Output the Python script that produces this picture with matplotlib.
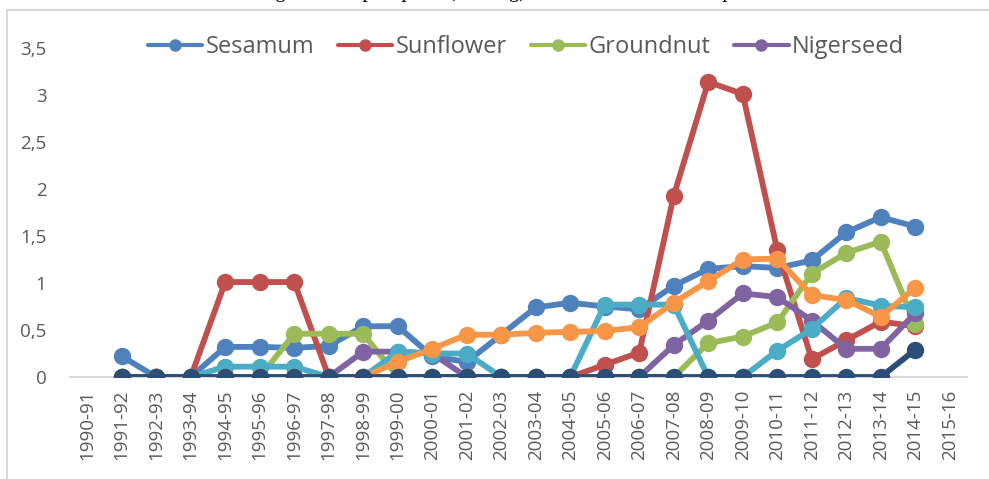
import numpy as np
import matplotlib
matplotlib.use("Agg")
import matplotlib.pyplot as plt
from matplotlib.lines import Line2D

nan = np.nan

years = ["1990-91", "1991-92", "1992-93", "1993-94", "1994-95", "1995-96",
         "1996-97", "1997-98", "1998-99", "1999-00", "2000-01", "2001-02",
         "2002-03", "2003-04", "2004-05", "2005-06", "2006-07", "2007-08",
         "2008-09", "2009-10", "2010-11", "2011-12", "2012-13", "2013-14",
         "2014-15", "2015-16"]

sesamum = [nan, 0.22, 0, 0, 0.32, 0.32, 0.31, 0.33, 0.54, 0.54, 0.22, 0.16, 0.45,
           0.74, 0.79, 0.75, 0.72, 0.97, 1.15, 1.18, 1.16, 1.24, 1.54, 1.70, 1.60, nan]
sunflower = [nan, 0, 0, 0, 1.01, 1.01, 1.01, 0, 0, 0, 0, 0, 0,
             0, 0, 0.13, 0.26, 1.93, 3.14, 3.01, 1.35, 0.19, 0.39, 0.59, 0.54, nan]
groundnut = [nan, 0, 0, 0, 0, 0, 0.46, 0.46, 0.46, 0, 0, 0, 0,
             0, 0, 0, 0, 0, 0.36, 0.43, 0.58, 1.10, 1.32, 1.44, 0.56, nan]
nigerseed = [nan, 0, 0, 0, 0, 0, 0, 0, 0.27, 0.27, 0.25, 0, 0,
             0, 0, 0, 0, 0.34, 0.60, 0.89, 0.85, 0.60, 0.30, 0.30, 0.68, nan]
series5 = [nan, 0, 0, 0, 0.11, 0.11, 0.11, 0, 0, 0.27, 0.25, 0.25, 0,
           0, 0, 0.77, 0.77, 0.77, 0, 0, 0.28, 0.51, 0.84, 0.76, 0.74, nan]
series6 = [nan, 0, 0, 0, 0, 0, 0, 0, 0, 0.16, 0.30, 0.45, 0.45,
           0.47, 0.48, 0.49, 0.53, 0.79, 1.02, 1.25, 1.26, 0.87, 0.82, 0.64, 0.95, nan]
series7 = [nan, 0, 0, 0, 0, 0, 0, 0, 0, 0, 0, 0, 0,
           0, 0, 0, 0, 0, 0, 0, 0, 0, 0, 0, 0.29, nan]

names = ["Sesamum", "Sunflower", "Groundnut", "Nigerseed", None, None, None]
values = [sesamum, sunflower, groundnut, nigerseed, series5, series6, series7]
colors = ["#4F81BD", "#C0504D", "#9BBB59", "#8064A2", "#4BACC6", "#F79646", "#2C4D75"]

plt.rcParams['font.family'] = ['Open Sans', 'DejaVu Sans']
text_grey = "#595959"

fig = plt.figure(figsize=(9.89, 4.79), dpi=100)
ax = fig.add_axes([70 / 989, 1 - 377 / 479, 897 / 989, 329 / 479])

x = np.arange(len(years))
for vals, col in zip(values, colors):
    ax.plot(x, vals, color=col, lw=4.2, marker='o', ms=11.5,
            solid_capstyle='round', solid_joinstyle='round')

ax.set_xlim(-0.5, len(years) - 0.5)
ax.set_ylim(0, 3.5)
ax.set_xticks(x)
ax.set_xticklabels(years, rotation=90, fontsize=13.5, color=text_grey)
yt = np.arange(0, 3.51, 0.5)
ax.set_yticks(yt)
ax.set_yticklabels([("%g" % v).replace(".", ",") for v in yt],
                   fontsize=13.5, color=text_grey)
ax.tick_params(axis='both', length=0)
ax.tick_params(axis='y', pad=17)
ax.tick_params(axis='x', pad=9)
for s in ["top", "right", "left"]:
    ax.spines[s].set_visible(False)
ax.spines["bottom"].set_color("#D9D9D9")
ax.spines["bottom"].set_linewidth(1.5)
ax.spines["bottom"].set_zorder(0)

handles = [Line2D([], [], color=c, lw=3, marker='o', ms=8, solid_capstyle='round')
           for c in colors[:4]]
fig.legend(handles, names[:4], loc='center', bbox_to_anchor=(0.532, 1 - 47 / 479),
           ncol=4, frameon=False, fontsize=17, handlelength=2.3,
           handletextpad=0.15, columnspacing=1.0, borderpad=0,
           labelcolor=text_grey)

# title of the figure, mostly cut off at the top edge
fig.text(0.505, 1 + 3 / 479, "Figure 3: Import price (US$/kg) of different oilseed crops",
         ha='center', va='baseline', fontsize=15, family='Liberation Serif')

# chart frame (left and top edges visible)
fig.add_artist(Line2D([7 / 989, 7 / 989], [0, 1 - 10 / 479], color="#D9D9D9", lw=1.5))
fig.add_artist(Line2D([7 / 989, 1], [1 - 10 / 479, 1 - 10 / 479], color="#D9D9D9", lw=1.5))

fig.savefig("out.png", dpi=100)
